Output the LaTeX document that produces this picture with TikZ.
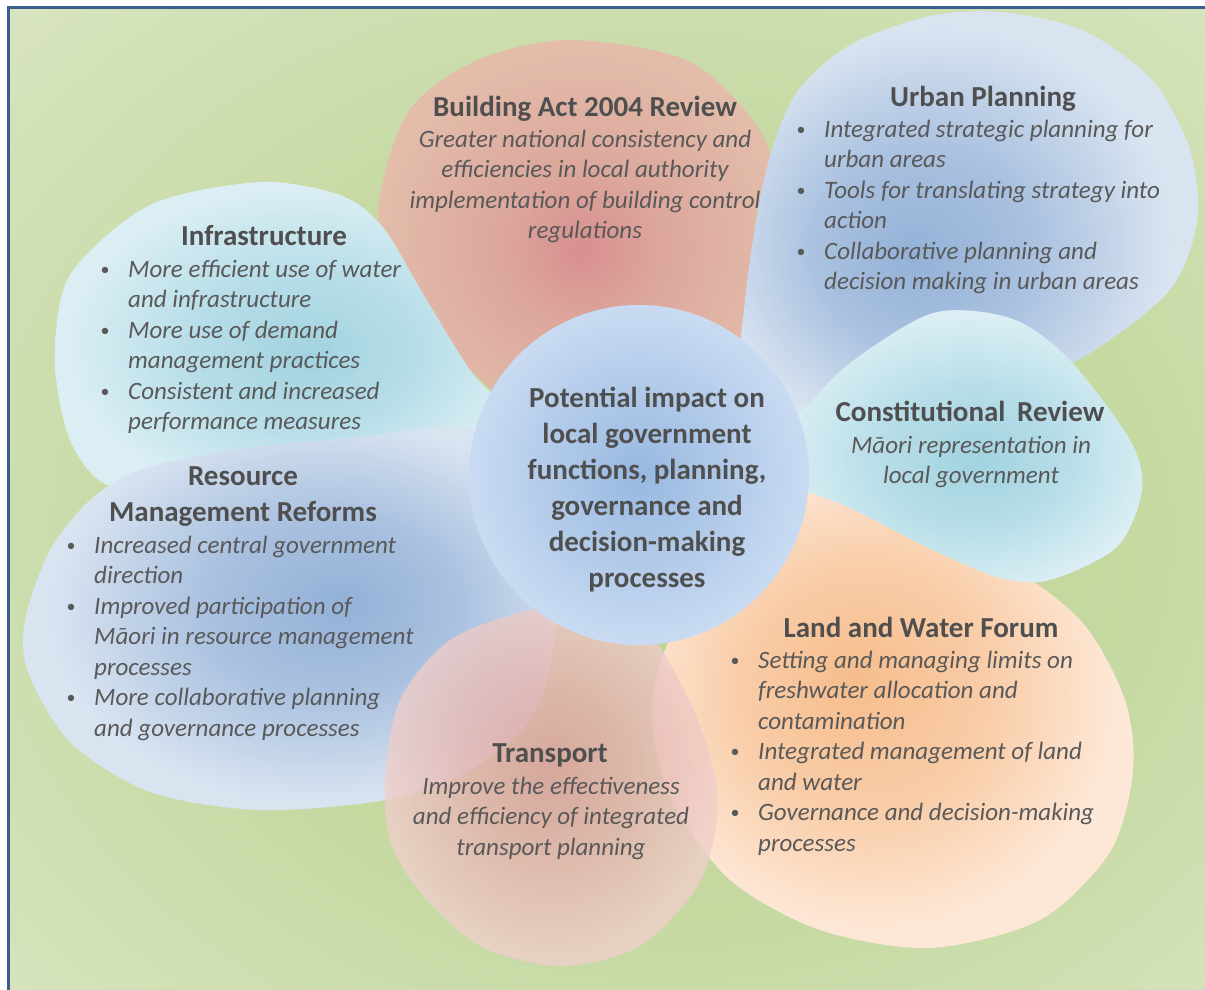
\documentclass[tikz,border=0pt]{standalone}
\usepackage{fontspec}
\setmainfont{Carlito}

\definecolor{bglight}{HTML}{D7E4BF}
\definecolor{bgsoft}{HTML}{C6D9A2}
\definecolor{bgmid}{HTML}{BED495}
\definecolor{frameblue}{HTML}{3A5F8F}
\definecolor{txtgrey}{HTML}{595959}
\definecolor{headgrey}{HTML}{4F4F4F}
\definecolor{redin}{HTML}{D98F8F}
\definecolor{redmid}{HTML}{DCA79C}
\definecolor{redout}{HTML}{E3BCAA}
\definecolor{bluein}{HTML}{93B1D7}
\definecolor{bluemid}{HTML}{ABC2E0}
\definecolor{blueout}{HTML}{D9E4F1}
\definecolor{cyanin}{HTML}{A2D3E0}
\definecolor{cyanmid}{HTML}{B6DDE8}
\definecolor{cyanout}{HTML}{DAEEF3}
\definecolor{orangein}{HTML}{F6BD8C}
\definecolor{orangemid}{HTML}{F9CDA8}
\definecolor{orangeout}{HTML}{FDE7D6}
\definecolor{pinkin}{HTML}{DC9C9C}
\definecolor{pinkmid}{HTML}{E3B2AE}
\definecolor{pinkout}{HTML}{EFCFCA}
\definecolor{hubin}{HTML}{98B8E0}
\definecolor{hubout}{HTML}{C9DBF2}

\pgfdeclareradialshading{bgshade}{\pgfpoint{4bp}{-3bp}}{color(0bp)=(bgmid); color(20bp)=(bgsoft); color(36bp)=(bglight); color(50bp)=(bglight)}
\pgfdeclareradialshading{redshade}{\pgfpoint{0bp}{-2bp}}{color(0bp)=(redin); color(10bp)=(redmid); color(25bp)=(redout); color(50bp)=(redout)}
\pgfdeclareradialshading{urbanshade}{\pgfpoint{-6bp}{-4bp}}{color(0bp)=(bluein); color(12bp)=(bluemid); color(25bp)=(blueout); color(50bp)=(blueout)}
\pgfdeclareradialshading{rmshade}{\pgfpoint{5bp}{2bp}}{color(0bp)=(bluein); color(12bp)=(bluemid); color(25bp)=(blueout); color(50bp)=(blueout)}
\pgfdeclareradialshading{cyanshade}{\pgfpoint{3bp}{-3bp}}{color(0bp)=(cyanin); color(12bp)=(cyanmid); color(25bp)=(cyanout); color(50bp)=(cyanout)}
\pgfdeclareradialshading{orangeshade}{\pgfpoint{-4bp}{4bp}}{color(0bp)=(orangein); color(13bp)=(orangemid); color(25bp)=(orangeout); color(50bp)=(orangeout)}
\pgfdeclareradialshading{pinkshade}{\pgfpoint{0bp}{2bp}}{color(0bp)=(pinkin); color(12bp)=(pinkmid); color(25bp)=(pinkout); color(50bp)=(pinkout)}

\newcommand{\bitem}{\hspace*{2pt}\makebox[0pt]{\upshape\fontsize{18}{18}\selectfont\raisebox{2pt}{\textbullet}}}

\begin{document}
\begin{tikzpicture}[x=1pt, y=-1pt,
  head/.style={font=\fontsize{29}{36}\selectfont\bfseries, text=headgrey, inner sep=0pt, anchor=base},
  body/.style={font=\fontsize{25}{30.5}\selectfont\itshape, text=txtgrey, inner sep=0pt, anchor=base},
  listbody/.style={body, anchor=base west},
  redblob/.style={shading=redshade},
  urbanblob/.style={shading=urbanshade},
  rmblob/.style={shading=rmshade},
  cyanblob/.style={shading=cyanshade},
  orangeblob/.style={shading=orangeshade},
  pinkblob/.style={shading=pinkshade, opacity=0.8},
  hubfill/.style={inner color=hubin, outer color=hubout}]
\useasboundingbox (0,0) rectangle (1205,989);
\clip (0,0) rectangle (1205,989);
\fill[white] (0,0) rectangle (1205,989);
\shade[shading=bgshade] (8,7) rectangle (1220,1000);
\draw[frameblue, line width=3pt] (8,7) rectangle (1220,1000);

\shade[redblob] plot[smooth cycle] coordinates {(570,40) (690,62) (765,140) (785,250) (760,350) (660,420) (540,420) (470,370) (405,300) (378,215) (408,112) (478,60)};
\shade[urbanblob] plot[smooth cycle] coordinates {(795,95) (850,45) (930,16) (1000,12) (1082,30) (1152,80) (1190,150) (1197,222) (1168,292) (1078,360) (980,392) (880,422) (800,432) (742,402) (745,300) (765,175)};
\shade[cyanblob] plot[smooth cycle] coordinates {(260,182) (340,195) (382,226) (422,292) (470,370) (512,420) (470,455) (350,462) (200,480) (110,486) (70,440) (55,360) (70,275) (150,205)};
\shade[orangeblob] plot[smooth cycle] coordinates {(800,490) (885,510) (1000,560) (1082,622) (1125,700) (1133,772) (1110,852) (1040,920) (930,948) (820,930) (730,880) (672,800) (652,720) (665,650) (720,560)};
\shade[cyanblob] plot[smooth cycle] coordinates {(800,413) (850,363) (933,313) (1010,318) (1067,357) (1130,440) (1142,490) (1117,547) (1050,580) (1000,578) (933,550) (850,508) (790,482) (770,440)};
\shade[rmblob] plot[smooth cycle] coordinates {(140,470) (230,450) (350,438) (470,428) (530,470) (555,560) (553,650) (530,720) (470,770) (385,800) (260,810) (150,792) (70,742) (28,672) (25,620) (50,550) (90,500)};
\shade[pinkblob] plot[smooth cycle] coordinates {(385,780) (400,700) (450,640) (530,610) (610,602) (655,640) (698,720) (718,800) (700,882) (640,946) (560,966) (480,946) (420,892) (390,840)};
\shade[hubfill] (639,475) circle (170);

\node[head] (bahead) at (585,116) {Building Act 2004 Review};
\node[body] (babody) at (585,147) {\begin{tabular}[t]{@{}c@{}}
Greater national consistency and\\
efficiencies in local authority\\
implementation of building control\\
regulations\end{tabular}};

\node[head] (urbanhead) at (983,106) {Urban Planning};
\node[listbody] (urbanbody) at (799,137) {\begin{tabular}[t]{@{}p{25pt}@{}l@{}}
\bitem & Integrated strategic planning for\\
 & urban areas\\
\bitem & Tools for translating strategy into\\
 & action\\
\bitem & Collaborative planning and\\
 & decision making in urban areas\end{tabular}};

\node[head] (infrahead) at (264,245) {Infrastructure};
\node[listbody] (infrabody) at (103,277) {\begin{tabular}[t]{@{}p{25pt}@{}l@{}}
\bitem & More efficient use of water\\
 & and infrastructure\\
\bitem & More use of demand\\
 & management practices\\
\bitem & Consistent and increased\\
 & performance measures\end{tabular}};

\node[head] (rmhead) at (243,485) {\begin{tabular}[t]{@{}c@{}}
Resource\\
Management Reforms\end{tabular}};
\node[listbody] (rmbody) at (69,553) {\begin{tabular}[t]{@{}p{25pt}@{}l@{}}
\bitem & Increased central government\\
 & direction\\
\bitem & Improved participation of\\
 & Māori in resource management\\
 & processes\\
\bitem & More collaborative planning\\
 & and governance processes\end{tabular}};

\node[head] (crhead) at (970,421) {Constitutional\hspace{5pt} Review};
\node[body] (crbody) at (971,453) {\begin{tabular}[t]{@{}c@{}}
Māori representation in\\
local government\end{tabular}};

\node[head] (lwhead) at (921,637) {Land and Water Forum};
\node[listbody] (lwbody) at (733,668) {\begin{tabular}[t]{@{}p{25pt}@{}l@{}}
\bitem & Setting and managing limits on\\
 & freshwater allocation and\\
 & contamination\\
\bitem & Integrated management of land\\
 & and water\\
\bitem & Governance and decision-making\\
 & processes\end{tabular}};

\node[head] (trhead) at (550,762) {Transport};
\node[body] (trbody) at (551,794) {\begin{tabular}[t]{@{}c@{}}
Improve the effectiveness\\
and efficiency of integrated\\
transport planning\end{tabular}};

\node[head] (hub) at (647,407) {\begin{tabular}[t]{@{}c@{}}
Potential impact on\\
local government\\
functions, planning,\\
governance and\\
decision-making\\
processes\end{tabular}};
\end{tikzpicture}
\end{document}
